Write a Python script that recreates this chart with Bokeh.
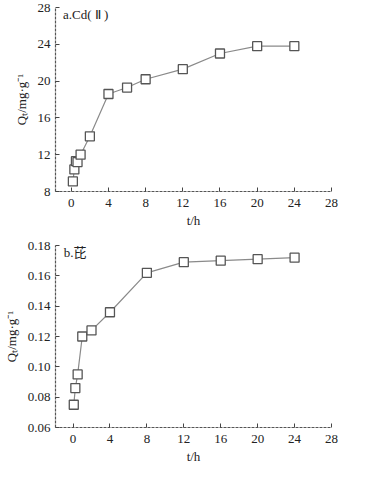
from bokeh.plotting import figure
from bokeh.layouts import column
from bokeh.models import Label, FixedTicker, Range1d
from bokeh.embed import file_html
from bokeh.resources import INLINE

# Panel a: Cd(II)
t_cd = [0.17, 0.33, 0.5, 0.67, 1, 2, 4, 6, 8, 12, 16, 20, 24]
q_cd = [9.1, 10.4, 11.3, 11.2, 12.0, 14.0, 18.6, 19.3, 20.2, 21.3, 23.0, 23.8, 23.8]
# Panel b: pyrene
t_py = [0.08, 0.25, 0.5, 1, 2, 4, 8, 12, 16, 20, 24]
q_py = [0.075, 0.086, 0.095, 0.120, 0.124, 0.136, 0.162, 0.169, 0.170, 0.171, 0.172]

x_ticks = [0, 4, 8, 12, 16, 20, 24, 28]
y_ticks_a = [8, 12, 16, 20, 24, 28]
y_ticks_b = [0.06, 0.08, 0.10, 0.12, 0.14, 0.16, 0.18]
y_labels_b = {0.06: "0.06", 0.08: "0.08", 0.1: "0.10", 0.12: "0.12", 0.14: "0.14", 0.16: "0.16", 0.18: "0.18"}

SERIF = "Liberation Serif"


def style(p, yticks):
    p.outline_line_color = None
    p.xgrid.visible = False
    p.ygrid.visible = False
    p.background_fill_color = "white"
    p.border_fill_color = "white"
    for ax in (p.xaxis[0], p.yaxis[0]):
        ax.axis_line_color = "#555555"
        ax.axis_line_width = 1.2
        ax.axis_line_dash = "3 1"
        ax.major_tick_in = 4
        ax.major_tick_out = 0
        ax.major_tick_line_color = "#444444"
        ax.minor_tick_line_color = None
        ax.major_label_text_font = SERIF
        ax.major_label_text_font_size = "13px"
        ax.major_label_text_color = "#222222"
        ax.axis_label_text_font = SERIF
        ax.axis_label_text_font_size = "13px"
        ax.axis_label_text_font_style = "normal"
        ax.axis_label_text_color = "#222222"
    p.xaxis[0].ticker = FixedTicker(ticks=x_ticks)
    p.yaxis[0].ticker = FixedTicker(ticks=yticks)
    p.xaxis[0].major_label_standoff = 7
    p.yaxis[0].major_label_standoff = 5
    p.xaxis[0].axis_label_standoff = 3
    p.yaxis[0].axis_label_standoff = 6


p1 = figure(width=353, height=231, output_backend="svg", toolbar_location=None,
            x_range=Range1d(-1.7, 28), y_range=Range1d(8, 28),
            min_border_left=47, min_border_right=22, min_border_top=7, min_border_bottom=40,
            x_axis_label="t/h", y_axis_label="Qₜ/mg·g⁻¹")
style(p1, y_ticks_a)
p1.line(t_cd, q_cd, line_color="#8a8a8a", line_width=1.2)
p1.scatter(t_cd, q_cd, marker="square", size=9, fill_color="white",
           line_color="#555555", line_width=1.3)
p1.add_layout(Label(x=-0.9, y=26.4, text="a.Cd( Ⅱ )", text_font=SERIF,
                    text_font_size="13px", text_color="#222222"))

p2 = figure(width=353, height=235, output_backend="svg", toolbar_location=None,
            x_range=Range1d(-1.9, 28), y_range=Range1d(0.06, 0.18),
            min_border_left=50, min_border_right=19, min_border_top=14, min_border_bottom=38,
            x_axis_label="t/h", y_axis_label="Qₜ/mg·g⁻¹")
style(p2, y_ticks_b)
p2.yaxis[0].major_label_overrides = y_labels_b
p2.line(t_py, q_py, line_color="#8a8a8a", line_width=1.2)
p2.scatter(t_py, q_py, marker="square", size=9, fill_color="white",
           line_color="#555555", line_width=1.3)
p2.add_layout(Label(x=-1.0, y=0.1705, text="b.芘", text_font="Liberation Serif, Noto Sans CJK SC",
                    text_font_size="13px", text_color="#222222"))

layout = column(p1, p2, spacing=0)
open("out.html", "w").write(file_html(layout, INLINE))
